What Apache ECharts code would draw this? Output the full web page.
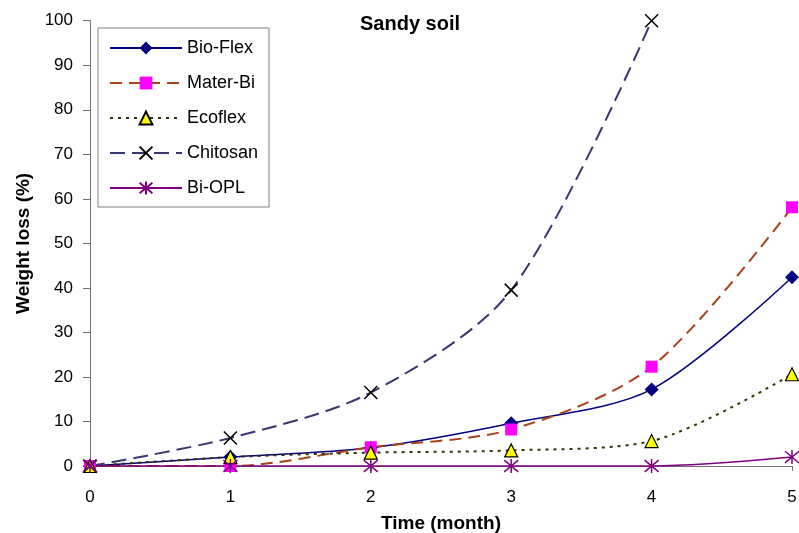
<!DOCTYPE html>
<html>
<head>
<meta charset="utf-8">
<script src="https://cdn.jsdelivr.net/npm/echarts@6/dist/echarts.min.js"></script>
<style>html,body{margin:0;padding:0;background:#fff}#c{width:799px;height:533px}</style>
</head>
<body>
<div id="c"></div>
<script>
var months = [0, 1, 2, 3, 4, 5];
var bioFlex = [0, 2.0, 4.1, 9.6, 17.2, 42.4];
var materBi = [0, 0, 4.2, 8.2, 22.3, 58.1];
var ecoflex = [0, 2.0, 3.0, 3.5, 5.6, 20.6];
var chitosan = [0, 6.3, 16.5, 39.5, 100];
var biOPL = [0, 0, 0, 0, 0, 2.0];
var yTicks = [0, 10, 20, 30, 40, 50, 60, 70, 80, 90, 100];

function pairs(vals) { return vals.map(function (v, i) { return [months[i], v]; }); }

var FONT = 'Liberation Sans, Arial, sans-serif';
var xPath = 'path://M0,0 L10,10 M10,0 L0,10';
var starPath = 'path://M0,0 L10,10 M10,0 L0,10 M5,-1 L5,11';

var chart = echarts.init(document.getElementById('c'), null, { renderer: 'canvas' });
chart.setOption({
  animation: false,
  backgroundColor: '#ffffff',
  title: {
    text: 'Sandy soil', left: 355, top: 9,
    textStyle: { fontFamily: FONT, fontSize: 20, fontWeight: 'bold', color: '#000' }
  },
  legend: {
    orient: 'vertical', left: 98, top: 28,
    padding: [11, 11, 10, 11],
    backgroundColor: '#fff', borderColor: '#808080', borderWidth: 1,
    itemWidth: 72, itemHeight: 16, itemGap: 17,
    textStyle: { fontFamily: FONT, fontSize: 18, color: '#000' },
    data: ['Bio-Flex', 'Mater-Bi', 'Ecoflex', 'Chitosan', 'Bi-OPL']
  },
  grid: { left: 90, right: 7, top: 20.7, bottom: 67, containLabel: false, outerBoundsMode: 'none' },
  xAxis: {
    type: 'value', min: 0, max: 5, interval: 1,
    name: 'Time (month)', nameLocation: 'middle', nameGap: 48,
    nameTextStyle: { fontFamily: FONT, fontSize: 19, fontWeight: 'bold', color: '#000' },
    axisLine: { lineStyle: { color: '#707070', width: 1 } },
    axisTick: { show: true, length: 5, inside: false, lineStyle: { color: '#707070' } },
    axisLabel: { fontFamily: FONT, fontSize: 17, color: '#000', margin: 23 },
    splitLine: { show: false }
  },
  yAxis: {
    type: 'value', min: 0, max: 100, interval: 10,
    name: 'Weight loss (%)', nameLocation: 'middle', nameGap: 57, nameRotate: 90,
    nameTextStyle: { fontFamily: FONT, fontSize: 19, fontWeight: 'bold', color: '#000' },
    axisLine: { show: true, lineStyle: { color: '#707070', width: 1 } },
    axisTick: { show: true, length: 7, lineStyle: { color: '#707070' } },
    axisLabel: { fontFamily: FONT, fontSize: 17, color: '#000', margin: 17,
      formatter: function (v) { return yTicks.indexOf(v) >= 0 ? String(v) : ''; } },
    splitLine: { show: false }
  },
  series: [
    {
      name: 'Bio-Flex', type: 'line', smooth: 0.3, clip: false, data: pairs(bioFlex),
      symbol: 'diamond', symbolSize: 14,
      itemStyle: { color: '#000080' },
      lineStyle: { color: '#000080', width: 1.5, type: 'solid' }
    },
    {
      name: 'Mater-Bi', type: 'line', smooth: 0.3, clip: false, data: pairs(materBi),
      symbol: 'rect', symbolSize: 12,
      itemStyle: { color: '#ff00ff' },
      lineStyle: { color: '#a8421a', width: 2, type: [12, 7] }
    },
    {
      name: 'Ecoflex', type: 'line', smooth: 0.3, clip: false, data: pairs(ecoflex),
      symbol: 'triangle', symbolSize: 13,
      itemStyle: { color: '#ffff00', borderColor: '#000', borderWidth: 1.2 },
      lineStyle: { color: '#333300', width: 2, type: [3, 5] }
    },
    {
      name: 'Chitosan', type: 'line', smooth: 0.3, clip: false, data: pairs(chitosan),
      symbol: xPath, symbolSize: 13,
      itemStyle: { color: 'none', borderColor: '#000', borderWidth: 1.5 },
      lineStyle: { color: '#383870', width: 2, type: [15, 7] }
    },
    {
      name: 'Bi-OPL', type: 'line', smooth: 0.3, clip: false, data: pairs(biOPL),
      symbol: starPath, symbolSize: 14,
      itemStyle: { color: 'none', borderColor: '#800080', borderWidth: 1.5 },
      lineStyle: { color: '#800080', width: 1.5, type: 'solid' }
    }
  ]
});
</script>
</body>
</html>
